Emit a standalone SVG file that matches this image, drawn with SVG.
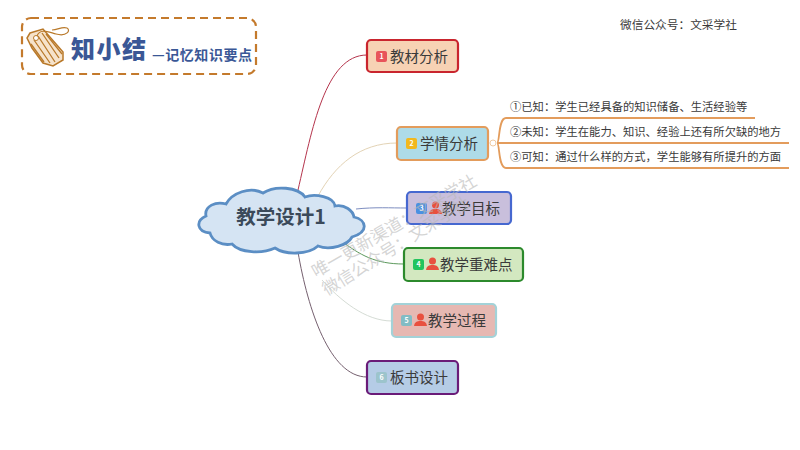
<svg xmlns="http://www.w3.org/2000/svg" width="800" height="450" viewBox="0 0 800 450">
<style>
text{font-family:"Noto Sans CJK SC","Noto Sans",sans-serif;fill:#3a3a3a}
.t{font-size:14.500px}
.s{font-size:11.300px}
.box{stroke-width:2.200}
.c{fill:none;stroke-width:1}
.b{font-size:7px;fill:#fff;text-anchor:middle;font-weight:700}
.wm{font-size:17px;fill:#b8b8b8;fill-opacity:.6}
.p{fill:#e8503f}
.br{fill:none;stroke:#e39c5c;stroke-width:1.800}
</style>
<defs>
<g id="person"><circle cx="6.500" cy="4" r="3.500"/><path d="M0 13C.5 9 3 8 6.500 8s6 1 6.500 5z"/></g>
</defs>
<rect width="800" height="450" fill="#fff"/>
<g id="logo">
<rect x="22" y="18" width="234" height="56" rx="9" fill="none" stroke="#c47a2c" stroke-width="2.200" stroke-dasharray="8 5"/>
<path d="M30 33 L43 29 L63 52 L63 60 L53 66 L43 63 L32 48 L27 38Z" fill="#f6e3cb" stroke="#b9792a" stroke-width="1.500"/>
<path d="M31 44L44 62M34 40L50 63M38 36L55 62M42 33L59 58M46 34L62 54" stroke="#b9792a" stroke-width="1.300" fill="none"/>
<circle cx="36" cy="38" r="2.500" fill="#fff" stroke="#b9792a"/>
<path d="M37 36C40 28 48 32 56 34C67 37 71 30 67 28C62 26 58 30 52 30" fill="none" stroke="#b9792a" stroke-width="1.200"/>
<text x="71" y="58" font-size="24" font-weight="900" style="fill:#3a5796" textLength="75">知小结</text>
<text x="152" y="60" font-size="14" font-weight="700" style="fill:#3a5796" textLength="100">—记忆知识要点</text>
</g>
<text id="source" x="620" y="29" font-size="11.700">微信公众号：文采学社</text>
<g id="connectors">
<path class="c" d="M298 190C312 130 325 55 367 55" stroke="#b5344c"/>
<path class="c" d="M318 196C335 165 360 143 397 143" stroke="#e3d3b5"/>
<path class="c" d="M356 209C375 207 390 208 407 208" stroke="#7d8dc0"/>
<path class="c" d="M340 240C360 255 375 264 404 264" stroke="#5d9a5d"/>
<path class="c" d="M322 280C340 300 365 321 392 321" stroke="#d5dcd5"/>
<path class="c" d="M298 252C308 310 330 377 367 377" stroke="#75606f"/>
<circle cx="493" cy="143" r="3" fill="#fff" stroke="#efc9a0"/>
<path class="br" d="M497 143C500 143 498 118 506 118H755"/>
<path class="br" d="M497 143H789"/>
<path class="br" d="M497 143C500 143 498 168 506 168H789"/>
</g>
<g id="center">
<path d="M210 233C197 232 195 221 206 216C204 206 216 201 226 204C232 193 250 186 263 193C275 185 298 187 305 197C315 193 334 197 335 206C345 204 353 211 354 217C367 220 369 232 352 237C348 245 330 251 318 246C308 255 285 255 275 248C262 254 240 253 232 244C222 246 212 241 210 233Z" fill="#d5e4f3" stroke="#5b8ec4" stroke-width="2.800"/>
<text x="281" y="224" text-anchor="middle" font-size="19.500" font-weight="700" style="fill:#3b4a5a">教学设计1</text>
</g>
<g id="n1">
<rect class="box" x="367" y="40" width="91" height="32" rx="4" fill="#f7d2b4" stroke="#c9252e"/>
<rect x="376" y="51" width="11" height="11" rx="2" fill="#e8545a"/><text class="b" x="381.500" y="59">1</text>
<text class="t" x="390" y="62">教材分析</text>
</g>
<g id="n2">
<rect class="box" x="397" y="127" width="91" height="33" rx="4" fill="#aedbe8" stroke="#e39c5c"/>
<rect x="406" y="138" width="11" height="11" rx="2" fill="#f2b81e"/><text class="b" x="411.500" y="146">2</text>
<text class="t" x="420" y="149">学情分析</text>
</g>
<g id="n2a"><text class="s" x="510" y="111">①已知：学生已经具备的知识储备、生活经验等</text></g>
<g id="n2b"><text class="s" x="510" y="136">②未知：学生在能力、知识、经验上还有所欠缺的地方</text></g>
<g id="n2c"><text class="s" x="510" y="161">③可知：通过什么样的方式，学生能够有所提升的方面</text></g>
<g id="n3">
<rect class="box" x="407" y="192" width="104" height="32" rx="4" fill="#c9bfdc" stroke="#4668d0"/>
<rect x="416" y="203" width="11" height="11" rx="2" fill="#4a90e2"/><text class="b" x="421.500" y="211">3</text>
<use href="#person" x="429" y="201" class="p"/>
<text class="t" x="442" y="214">教学目标</text>
</g>
<g id="n4">
<rect class="box" x="404" y="248" width="119" height="33" rx="4" fill="#d3e8c0" stroke="#2c8a2c"/>
<rect x="413" y="259" width="11" height="11" rx="2" fill="#22c45e"/><text class="b" x="418.500" y="267">4</text>
<use href="#person" x="426" y="257" class="p"/>
<text class="t" x="440" y="270">教学重难点</text>
</g>
<g id="n5">
<rect class="box" x="392" y="304" width="104" height="33" rx="4" fill="#e6b8b2" stroke="#a3d2d8"/>
<rect x="401" y="315" width="11" height="11" rx="2" fill="#82bcc4"/><text class="b" x="406.500" y="323">5</text>
<use href="#person" x="414" y="313" class="p"/>
<text class="t" x="428" y="326">教学过程</text>
</g>
<g id="n6">
<rect class="box" x="367" y="361" width="91" height="33" rx="4" fill="#b5cce6" stroke="#6a1b78"/>
<rect x="376" y="372" width="11" height="11" rx="2" fill="#9cc4cc"/><text class="b" x="381.500" y="380">6</text>
<text class="t" x="390" y="383">板书设计</text>
</g>
<g id="watermark">
<text class="wm" transform="translate(316 278) rotate(-30)">唯一更新渠道：文采学社</text>
<text class="wm" transform="translate(327 296) rotate(-32)">微信公众号：文采学社</text>
</g>
</svg>
